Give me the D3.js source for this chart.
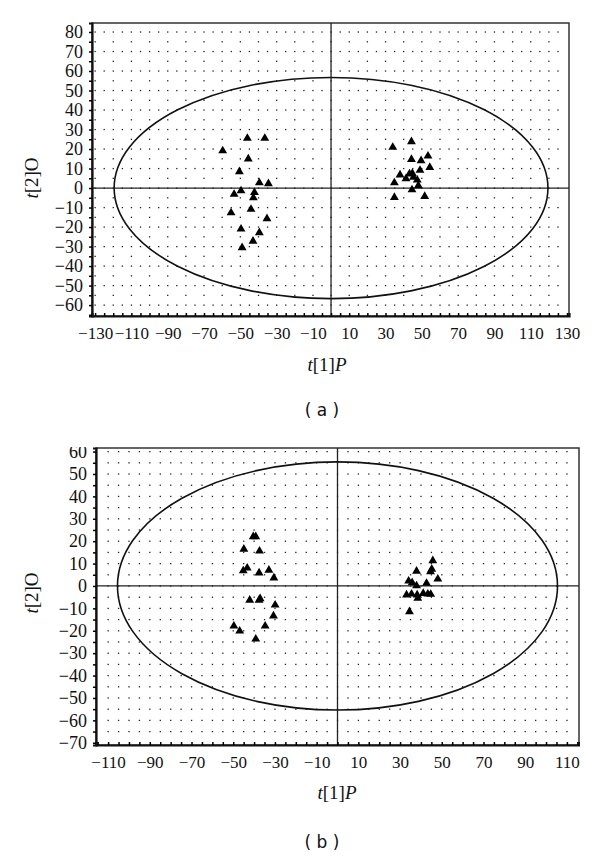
<!DOCTYPE html>
<html><head><meta charset="utf-8">
<script src="https://cdn.jsdelivr.net/npm/d3@7"></script>
<style>body{margin:0;background:#fff}svg{display:block}
.sf{font-family:"Liberation Serif","DejaVu Serif","Times New Roman",serif !important;}
.ss{font-family:"DejaVu Sans","Liberation Sans",sans-serif;}
</style>
</head><body>
<svg id="c" width="600" height="857"></svg>
<script>
// Panel (a) data
const aX = [-46.1,-36.5,-59.7,-45.6,-50.5,-39.5,-34.5,-49.6,-53.4,-42.2,-42.8,-44.1,-55.1,-35.3,-49.6,-39.5,-43.0,-49.0,
            34.0,44.3,53.4,44.3,49.6,54.4,49.0,38.0,43.2,44.8,41.3,45.4,47.5,34.9,48.1,44.6,34.9,51.6];
const aY = [25.5,25.5,19.1,14.9,8.4,2.7,2.2,-1.4,-3.2,-2.2,-5.0,-10.9,-12.7,-15.7,-21.0,-22.9,-27.2,-30.6,
            20.9,23.8,16.4,14.7,14.0,10.6,9.1,6.7,7.2,7.5,4.8,5.5,4.1,2.7,1.2,-0.9,-4.8,-4.3];
const aXTicks = [-130,-110,-90,-70,-50,-30,-10,10,30,50,70,90,110,130];
const aYTicks = [80,70,60,50,40,30,20,10,0,-10,-20,-30,-40,-50,-60];
const aEllipse = [119.5, 56.7];

// Panel (b) data
const bX = [-40.4,-39.2,-44.9,-37.4,-45.2,-43.3,-37.6,-32.9,-30.5,-42.1,-37.6,-37.1,-29.9,-30.7,-49.7,-46.9,-34.7,-39.2,
            45.7,37.9,44.6,45.2,48.1,34.1,35.8,37.9,42.7,33.1,35.5,38.5,38.2,41.1,43.3,44.7,34.5];
const bY = [22.0,22.0,16.4,15.6,6.8,8.0,5.8,7.1,3.6,-6.3,-6.3,-5.7,-8.5,-13.4,-17.9,-20.1,-17.9,-23.7,
            11.3,6.6,6.4,7.5,3.1,2.2,1.5,0.1,1.2,-4.0,-3.6,-5.5,-4.0,-3.3,-3.6,-3.7,-11.5];
const bXTicks = [-110,-90,-70,-50,-30,-10,10,30,50,70,90,110];
const bYTicks = [60,50,40,30,20,10,0,-10,-20,-30,-40,-50,-60,-70];
const bEllipse = [105.5, 55.4];

const svg = d3.select("#c");
const fmt = v => v < 0 ? "\u2212" + Math.abs(v) : String(v);

function panel(o) {
  const g = svg.append("g");
  const clipId = "clip" + o.id;
  svg.append("defs").append("clipPath").attr("id", clipId)
    .append("rect").attr("x", 0).attr("y", o.clipTop).attr("width", o.clipRight).attr("height", 857);
  const gc = g.append("g").attr("clip-path", `url(#${clipId})`);
  const x = d3.scaleLinear().domain(o.xDom).range([o.left, o.right]);
  const y = d3.scaleLinear().domain(o.yDom).range([o.bottom, o.top]);

  // dotted lattice
  const dots = gc.append("g").attr("fill", "#222");
  const xs0 = Math.ceil(o.xDom[0] / 5) * 5, ys0 = Math.ceil(o.yDom[0] / 5) * 5;
  for (let xv = xs0; xv < o.xDom[1]; xv += 5) {
    for (let yv = ys0; yv < o.yDom[1]; yv += 5) {
      if (o.sparse && Math.abs(xv % 10) !== 0 && Math.abs(yv % 10) === 5) continue;
      const px = x(xv), py = y(yv);
      if (px < o.left + 3 || px > o.right - 3 || py < o.top + 3 || py > o.bottom - 3) continue;
      dots.append("rect").attr("x", px - 0.6).attr("y", py - 0.6).attr("width", 1.3).attr("height", 1.3);
    }
  }

  // frame
  gc.append("rect").attr("x", o.left).attr("y", o.top).attr("width", o.right - o.left).attr("height", o.bottom - o.top)
    .attr("fill", "none").attr("stroke", "#333").attr("stroke-width", 1.5);

  // zero lines
  gc.append("line").attr("x1", x(0)).attr("x2", x(0)).attr("y1", o.top).attr("y2", o.bottom).attr("stroke", "#222").attr("stroke-width", 1.3);
  gc.append("line").attr("x1", o.left).attr("x2", o.right).attr("y1", y(0)).attr("y2", y(0)).attr("stroke", "#222").attr("stroke-width", 1.3);

  // ellipse
  gc.append("ellipse").attr("cx", x(0)).attr("cy", y(0))
    .attr("rx", x(o.ell[0]) - x(0)).attr("ry", y(0) - y(o.ell[1]))
    .attr("fill", "none").attr("stroke", "#111").attr("stroke-width", 1.6);

  // axes
  const minorX = d3.range(Math.ceil(o.xDom[0] / 5) * 5, o.xDom[1], 5);
  const minorY = d3.range(Math.ceil(o.yDom[0] / 5) * 5, o.yDom[1], 5);
  const xa = gc.append("g").attr("transform", `translate(0,${o.bottom})`)
    .call(d3.axisBottom(x).tickValues(minorX).tickSize(-3).tickFormat(""));
  xa.select(".domain").attr("stroke-width", 2.2).attr("stroke", "#111");
  xa.selectAll(".tick line").attr("stroke-width", 1.5);
  const xl = gc.append("g").attr("transform", `translate(0,${o.bottom})`)
    .call(d3.axisBottom(x).tickValues(o.xTicks).tickSize(0).tickPadding(11).tickFormat(fmt));
  xl.attr("font-family", null).attr("font-size", null);
  xl.select(".domain").remove();
  xl.selectAll("text").attr("class", "sf").style("font-size", "17px").attr("fill", "#111");

  const ya = gc.append("g").attr("transform", `translate(${o.left},0)`)
    .call(d3.axisLeft(y).tickValues(minorY).tickSize(3).tickFormat(""));
  ya.select(".domain").attr("stroke-width", 2.2).attr("stroke", "#111");
  ya.selectAll(".tick line").attr("stroke-width", 1.5);
  const yl = gc.append("g").attr("transform", `translate(${o.left},0)`)
    .call(d3.axisLeft(y).tickValues(o.yTicks).tickSize(0).tickPadding(9).tickFormat(fmt));
  yl.attr("font-family", null).attr("font-size", null);
  yl.select(".domain").remove();
  yl.selectAll("text").attr("class", "sf").style("font-size", "18px").attr("fill", "#111");

  // points
  const tri = d3.symbol(d3.symbolTriangle, 34);
  gc.append("g").selectAll("path").data(o.px.map((v, i) => [v, o.py[i]])).join("path")
    .attr("d", tri).attr("fill", "#000")
    .attr("transform", d => `translate(${x(d[0])},${y(d[1])})`);

  // titles
  const yt = g.append("text").attr("class", "sf").attr("transform", `translate(${o.yTitle[0]},${o.yTitle[1]}) rotate(-90)`)
    .attr("text-anchor", "middle").style("font-size", "19px").attr("fill", "#111");
  yt.append("tspan").attr("font-style", "italic").text("t");
  yt.append("tspan").text("[2]O");
  const xt = g.append("text").attr("class", "sf").attr("x", o.xTitle[0]).attr("y", o.xTitle[1])
    .attr("text-anchor", "middle").style("font-size", "19px").attr("fill", "#111");
  xt.append("tspan").attr("font-style", "italic").text("t");
  xt.append("tspan").text("[1]");
  xt.append("tspan").attr("font-style", "italic").text("P");
  g.append("text").attr("class", "ss").attr("x", o.label[0]).attr("y", o.label[1]).attr("text-anchor", "middle")
    .style("font-size", "17px").attr("fill", "#111")
    .text(o.labelText);
}

panel({id: "a", left: 92, right: 569, top: 23, bottom: 316,
  xDom: [-131.7, 131.1], yDom: [-65.6, 84.6], xTicks: aXTicks, yTicks: aYTicks,
  ell: aEllipse, px: aX, py: aY, sparse: true, clipTop: 0, clipRight: 600,
  yTitle: [38, 178], xTitle: [327, 371], label: [322, 416], labelText: "( a )"});

panel({id: "b", left: 96, right: 579, top: 448, bottom: 745,
  xDom: [-115.8, 115.8], yDom: [-71.0, 61.6], xTicks: bXTicks, yTicks: bYTicks,
  ell: bEllipse, px: bX, py: bY, sparse: false, clipTop: 447, clipRight: 580,
  yTitle: [38, 593], xTitle: [337, 799], label: [322, 848], labelText: "( b )"});
</script>
</body></html>
